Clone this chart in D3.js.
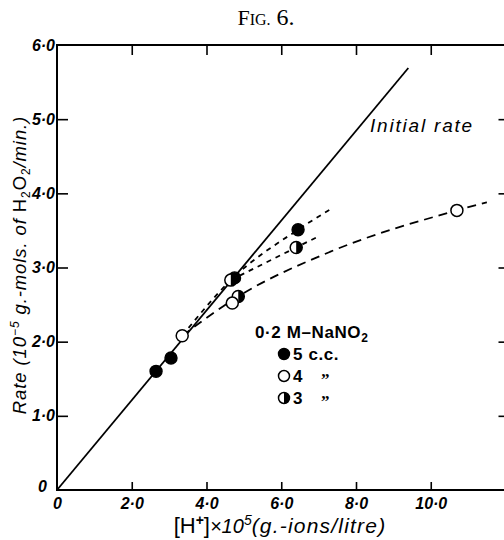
<!DOCTYPE html>
<html><head><meta charset="utf-8">
<script src="https://cdn.jsdelivr.net/npm/d3@7"></script>
<style>
body{margin:0;background:#fff;}
svg{display:block;}
</style></head><body>
<svg id="chart" width="504" height="540"></svg>
<script>
// Tick positions and their printed labels
const xTicks = [0, 2, 4, 6, 8, 10];
const xTickLabels = ["0", "2·0", "4·0", "6·0", "8·0", "10·0"];
const yTicks = [0, 1, 2, 3, 4, 5, 6];
const yTickLabels = ["0", "1·0", "2·0", "3·0", "4·0", "5·0", "6·0"];

// Initial-rate line ([H+] x 10^5, rate x 10^5)
const initialRate = [[0, 0], [9.4, 5.69]];

// Measured rates for each volume of 0·2 M-NaNO2
const cc5 = [[2.65, 1.60], [3.05, 1.78], [4.75, 2.86], [6.45, 3.51]];
const cc4 = [[3.35, 2.08], [4.69, 2.52], [10.7, 3.77]];
const cc3 = [[4.65, 2.83], [4.85, 2.61], [6.4, 3.27]];

// Dashed trend curves
const curveUpper = [[3.35, 2.08], [4.65, 2.83], [6.45, 3.51], [7.3, 3.78]];
const curveMiddle = [[4.65, 2.83], [6.4, 3.27], [7.0, 3.42]];
const curveLower = [[3.35, 2.08], [4.85, 2.61], [7.3, 3.21], [10.7, 3.77], [11.5, 3.88]];

// Legend entries
const legendTitle = "0·2 M–NaNO";
const legendItems = [
  { kind: "filled", label: "5 c.c." },
  { kind: "open", label: "4" },
  { kind: "half", label: "3" }
];

const svg = d3.select("#chart");
const x = d3.scaleLinear().domain([0, 12]).range([57, 505.5]);
const y = d3.scaleLinear().domain([0, 6]).range([490, 45]);

const sans = '"Liberation Sans", Arial, sans-serif';
const serif = '"Liberation Serif", "DejaVu Serif", serif';

function styleAxis(g, showText) {
  g.select(".domain").remove();
  g.selectAll(".tick line").attr("stroke", "#000").attr("stroke-width", 1.6);
  g.selectAll(".tick text")
    .attr("fill", "#000")
    .style("font-family", sans)
    .style("font-style", "italic")
    .style("font-weight", "bold")
    .style("font-size", "16px");
  if (!showText) g.selectAll(".tick text").remove();
}

// Bottom axis
svg.append("g")
  .attr("transform", `translate(0,${y(0)})`)
  .call(d3.axisBottom(x).tickValues(xTicks).tickFormat((d, i) => xTickLabels[i]).tickSize(-8).tickPadding(8))
  .call(g => styleAxis(g, true))
  .call(g => g.selectAll(".tick").filter(d => d === 0).select("line").remove());

// Left axis
svg.append("g")
  .attr("transform", `translate(${x(0)},0)`)
  .call(d3.axisLeft(y).tickValues(yTicks).tickFormat((d, i) => yTickLabels[i]).tickSize(-11).tickPadding(2))
  .call(g => styleAxis(g, true))
  .call(g => g.selectAll(".tick").filter(d => d === 0 || d === 6).select("line").remove())
  .call(g => g.selectAll(".tick").filter(d => d === 0).select("text").attr("x", -10).attr("dy", "0.1em"));

// Top axis (ticks only)
svg.append("g")
  .attr("transform", `translate(0,${y(6)})`)
  .call(d3.axisTop(x).tickValues([2, 4, 6, 8, 10]).tickSize(-10))
  .call(g => styleAxis(g, false));

// Right axis (ticks only)
svg.append("g")
  .attr("transform", `translate(${x(12)},0)`)
  .call(d3.axisRight(y).tickValues([1, 2, 3, 4, 5]).tickSize(-7))
  .call(g => styleAxis(g, false));

// Frame
svg.append("rect")
  .attr("x", x(0)).attr("y", y(6))
  .attr("width", x(12) - x(0)).attr("height", y(0) - y(6))
  .attr("fill", "none").attr("stroke", "#000").attr("stroke-width", 2);

// Dashed trend curves
const line = d3.line().x(d => x(d[0])).y(d => y(d[1])).curve(d3.curveMonotoneX);
svg.append("path").attr("d", line(curveLower))
  .attr("fill", "none").attr("stroke", "#000").attr("stroke-width", 1.8).attr("stroke-dasharray", "9,6");
svg.append("path").attr("d", line(curveUpper))
  .attr("fill", "none").attr("stroke", "#000").attr("stroke-width", 1.8).attr("stroke-dasharray", "5,5");
svg.append("path").attr("d", line(curveMiddle))
  .attr("fill", "none").attr("stroke", "#000").attr("stroke-width", 1.8).attr("stroke-dasharray", "5,5");

// Initial-rate line
svg.append("path").attr("d", d3.line().x(d => x(d[0])).y(d => y(d[1]))(initialRate))
  .attr("fill", "none").attr("stroke", "#000").attr("stroke-width", 1.8);

svg.append("text")
  .attr("x", 370).attr("y", 132)
  .style("font-family", sans).style("font-style", "italic").style("font-size", "19px")
  .style("letter-spacing", "1.8px")
  .text("Initial rate");

// Marker drawing
function drawMarker(g, kind, r) {
  if (kind === "filled") {
    g.append("circle").attr("r", r).attr("fill", "#000").attr("stroke", "#000").attr("stroke-width", 1.4);
  } else if (kind === "open") {
    g.append("circle").attr("r", r).attr("fill", "#fff").attr("stroke", "#000").attr("stroke-width", 1.5);
  } else {
    g.append("circle").attr("r", r).attr("fill", "#fff").attr("stroke", "#000").attr("stroke-width", 1.5);
    g.append("path").attr("d", `M0,${-r}A${r},${r} 0 0 1 0,${r}Z`).attr("fill", "#000");
  }
}

const series = [["filled", cc5], ["half", cc3], ["open", cc4]];
series.forEach(([kind, pts]) => {
  svg.append("g").selectAll("g").data(pts).join("g")
    .attr("transform", d => `translate(${x(d[0])},${y(d[1])})`)
    .each(function () { drawMarker(d3.select(this), kind, 6); });
});

// Legend
const legend = svg.append("g");
const lt = legend.append("text").attr("x", 255).attr("y", 338)
  .style("font-family", sans).style("font-size", "17px").style("font-weight", "bold")
  .style("letter-spacing", "0.6px");
lt.append("tspan").text(legendTitle);
lt.append("tspan").attr("dy", 4).style("font-size", "12px").text("2");

legendItems.forEach((item, i) => {
  const cy = 354 + i * 22;
  const g = legend.append("g").attr("transform", `translate(284,${cy})`);
  drawMarker(g, item.kind, 5.5);
  legend.append("text").attr("x", 293).attr("y", cy + 6)
    .style("font-family", sans).style("font-size", "17px").style("font-weight", "bold")
    .style("letter-spacing", "0.6px")
    .text(item.label);
  if (i > 0) {
    legend.append("text").attr("x", 321).attr("y", cy + 9)
      .style("font-family", serif).style("font-size", "17px").style("font-weight", "bold")
      .text("”");
  }
});

// Figure title
const title = svg.append("text").attr("x", 266).attr("y", 25).attr("text-anchor", "middle")
  .style("font-family", serif).style("font-size", "22px");
title.append("tspan").text("F");
title.append("tspan").style("font-size", "16px").text("IG.");
title.append("tspan").style("font-size", "24px").text(" 6.");

// X-axis title
const xt = svg.append("text").attr("x", 280).attr("y", 533).attr("text-anchor", "middle")
  .style("font-family", sans).style("font-size", "22px");
xt.append("tspan").text("[H");
xt.append("tspan").attr("dy", -8).style("font-size", "14px").style("font-weight", "bold").text("+");
xt.append("tspan").attr("dy", 8).text("]");
xt.append("tspan").style("font-style", "italic").style("font-size", "20px").text("×10");
xt.append("tspan").attr("dy", -8).style("font-style", "italic").style("font-size", "14px").text("5");
xt.append("tspan").attr("dy", 8).style("font-style", "italic").style("font-size", "21px")
  .style("letter-spacing", "1.2px").text("(g.-ions/litre)");

// Y-axis title
const yt = svg.append("text").attr("transform", "translate(26,265) rotate(-90)").attr("text-anchor", "middle")
  .style("font-family", sans).style("font-size", "18.5px").style("font-style", "italic")
  .style("letter-spacing", "0.9px");
yt.append("tspan").text("Rate (10");
yt.append("tspan").attr("dy", -7).style("font-size", "12px").text("−5");
yt.append("tspan").attr("dy", 7).text(" g.-mols. of ");
yt.append("tspan").style("font-style", "normal").text("H");
yt.append("tspan").attr("dy", 4).style("font-style", "normal").style("font-size", "12px").text("2");
yt.append("tspan").attr("dy", -4).style("font-style", "normal").text("O");
yt.append("tspan").attr("dy", 4).style("font-style", "normal").style("font-size", "12px").text("2");
yt.append("tspan").attr("dy", -4).text("/min.)");
</script>
</body></html>
